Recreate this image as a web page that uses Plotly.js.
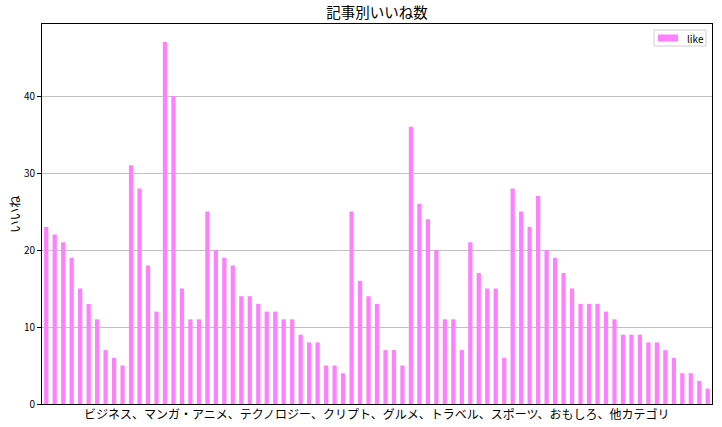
<!DOCTYPE html>
<html>
<head>
<meta charset="utf-8">
<script src="https://cdn.plot.ly/plotly-3.0.1.min.js"></script>
<style>html,body{margin:0;padding:0;background:#fff}#chart{width:722px;height:427px}</style>
</head>
<body>
<div id="chart"></div>
<script>
const likes = [
  23,22,21,19,15,13,11,7,6,5,
  31,28,18,12,47,40,15,11,11,25,
  20,19,18,14,14,13,12,12,11,11,
  9,8,8,5,5,4,25,16,14,13,
  7,7,5,36,26,24,20,11,11,7,
  21,17,15,15,6,28,25,23,27,20,
  19,17,15,13,13,13,12,11,9,9,
  9,8,8,7,6,4,4,3,2
];
const articleIndex = likes.map((_, i) => i);
const seriesName = "like";
const chartTitle = "記事別いいね数";
const xLabel = "ビジネス、マンガ・アニメ、テクノロジー、クリプト、グルメ、トラベル、スポーツ、おもしろ、他カテゴリ";
const yLabel = "いいね";
const yTicks = [0, 10, 20, 30, 40];

const FONT = "'Noto Sans CJK JP', 'DejaVu Sans', sans-serif";
const BAR_COLOR = "#ff80ff";

// plot area in pixels
const L = 42, R = 10, T = 24, B = 23, W = 722, H = 427;
const PW = W - L - R, PH = H - T - B;
const px = x => (x - L) / PW;
const py = y => 1 - (y - T) / PH;

const trace = {
  type: "bar",
  x: articleIndex,
  y: likes,
  name: seriesName,
  width: 0.5,
  marker: {color: BAR_COLOR, line: {width: 0}},
  showlegend: false
};

const layout = {
  width: W, height: H,
  margin: {l: L, r: R, t: T, b: B},
  paper_bgcolor: "#fff", plot_bgcolor: "#fff",
  font: {family: FONT, color: "#000", size: 10},
  title: {text: chartTitle, font: {size: 14.5, family: FONT, color: "#000"},
          x: 0.5, xref: "paper", xanchor: "center",
          y: 1 - 13/427, yref: "container", yanchor: "middle"},
  xaxis: {
    range: [-0.5, likes.length - 0.5],
    showticklabels: false, ticks: "", showgrid: false, zeroline: false,
    showline: true, linecolor: "#000", linewidth: 1, mirror: true
  },
  yaxis: {
    range: [0, 47 * 1.05],
    tickvals: yTicks, ticktext: yTicks.map(String),
    ticks: "outside", ticklen: 4, tickwidth: 1, tickcolor: "#000",
    tickfont: {size: 10, family: FONT, color: "#000"},
    showgrid: true, gridcolor: "#b0b0b0", gridwidth: 0.8,
    zeroline: false,
    showline: true, linecolor: "#000", linewidth: 1, mirror: true
  },
  showlegend: false,
  shapes: [
    {type: "rect", xref: "paper", yref: "paper",
     x0: px(654), x1: px(706), y0: py(46), y1: py(30),
     line: {color: "#d0d0d0", width: 1}, fillcolor: "rgba(255,255,255,0.8)", layer: "above"},
    {type: "rect", xref: "paper", yref: "paper",
     x0: px(658), x1: px(678), y0: py(41.5), y1: py(34.5),
     line: {width: 0}, fillcolor: BAR_COLOR, layer: "above"}
  ],
  annotations: [
    {text: seriesName, xref: "paper", yref: "paper", x: px(685), y: py(38),
     xanchor: "left", yanchor: "middle", showarrow: false,
     font: {size: 10, family: FONT, color: "#000"}},
    {text: xLabel, xref: "paper", yref: "paper", x: 0.5, y: 0,
     xanchor: "center", yanchor: "middle", yshift: -9, showarrow: false,
     font: {size: 12, family: FONT, color: "#000"}},
    {text: yLabel, xref: "paper", yref: "paper", x: 0, y: 0.5,
     xanchor: "center", yanchor: "middle", xshift: -28, textangle: -90, showarrow: false,
     font: {size: 12.5, family: FONT, color: "#000"}}
  ]
};

Plotly.newPlot("chart", [trace], layout, {displayModeBar: false, staticPlot: true});
</script>
</body>
</html>
